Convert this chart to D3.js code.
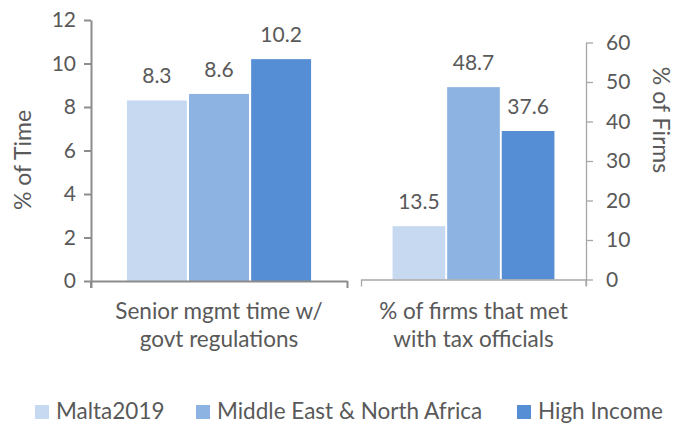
<!DOCTYPE html>
<html>
<head>
<meta charset="utf-8">
<script src="https://cdn.jsdelivr.net/npm/d3@7"></script>
<style>
  body { margin: 0; background: #fff; }
  text { font-family: Lato, "Open Sans", sans-serif; fill: #595959; }
</style>
</head>
<body>
<svg class="graph" width="682" height="424"></svg>
<script>
// data
var series = ["Malta2019", "Middle East & North Africa", "High Income"];
var categoryLines = [["Senior mgmt time w/", "govt regulations"], ["% of firms that met", "with tax officials"]];
var timeValues = [8.3, 8.6, 10.2];
var firmValues = [13.5, 48.7, 37.6];
var leftTicks = [0, 2, 4, 6, 8, 10, 12];
var rightTicks = [0, 10, 20, 30, 40, 50, 60];
var colors = ["#c6d9f0", "#8db3e2", "#558ed5"];

var svg = d3.select(".graph");
var numSize = 21, textSize = 22.5;

var yLeft = d3.scaleLinear().domain([0, 12]).range([281, 20]);
var yRight = d3.scaleLinear().domain([0, 60]).range([279.5, 42.5]);
var color = d3.scaleOrdinal().domain(series).range(colors);

// each panel: x extent, scale, values, title lines
var panels = [
  {x0: 91, x1: 347, y: yLeft, values: timeValues, lines: categoryLines[0], stroke: "#8c8c8c", sw: 2},
  {x0: 361, x1: 586, y: yRight, values: firmValues, lines: categoryLines[1], stroke: "#a6a6a6", sw: 1.3}
];

panels.forEach(function(p){
  var band = d3.scaleBand().domain([0]).range([p.x0, p.x1]).paddingOuter(0.195);
  var inner = d3.scaleBand().domain(series).range([0, band.bandwidth()]).paddingInner(0.035);
  var g = svg.append("g").attr("transform", "translate(" + band(0) + ",0)");

  g.selectAll("rect").data(p.values).enter().append("rect")
    .attr("x", function(d, i){ return inner(series[i]); })
    .attr("width", inner.bandwidth())
    .attr("y", function(d){ return p.y(d); })
    .attr("height", function(d){ return p.y(0) - p.y(d); })
    .attr("fill", function(d, i){ return color(series[i]); });

  g.selectAll(".val").data(p.values).enter().append("text")
    .attr("class", "val")
    .attr("x", function(d, i){ return inner(series[i]) + inner.bandwidth() / 2; })
    .attr("y", function(d){ return p.y(d) - 17; })
    .attr("text-anchor", "middle")
    .style("font-size", numSize + "px")
    .text(function(d){ return d.toFixed(1); });

  // category axis with end ticks
  var xl = d3.scaleLinear().domain([0, 1]).range([p.x0, p.x1]);
  var ax = svg.append("g").attr("transform", "translate(0," + p.y(0) + ")")
    .call(d3.axisBottom(xl).tickValues([0, 1]).tickSize(7).tickSizeOuter(0).tickFormat(""));
  ax.selectAll("path,line").attr("stroke", p.stroke).attr("stroke-width", p.sw);

  var t = svg.append("text")
    .attr("text-anchor", "middle")
    .style("font-size", textSize + "px");
  t.selectAll("tspan").data(p.lines).enter().append("tspan")
    .attr("x", (p.x0 + p.x1) / 2)
    .attr("y", function(d, i){ return 319 + i * 28; })
    .text(function(d){ return d; });
});

// left value axis
var la = svg.append("g").attr("transform", "translate(91,0)")
  .call(d3.axisLeft(yLeft).tickValues(leftTicks).tickSize(7).tickSizeOuter(0).tickPadding(8));
la.selectAll("path,line").attr("stroke", "#8c8c8c").attr("stroke-width", 2);
la.selectAll("text").style("font-size", numSize + "px").style("font-family", null).attr("fill", null);

// right value axis
var ra = svg.append("g").attr("transform", "translate(586,0)")
  .call(d3.axisRight(yRight).tickValues(rightTicks).tickSize(7).tickSizeOuter(0).tickPadding(13));
ra.selectAll("path,line").attr("stroke", "#a6a6a6").attr("stroke-width", 1.3);
ra.selectAll("text").style("font-size", numSize + "px").style("font-family", null).attr("fill", null);

// extend the vertical axes below the baseline
svg.append("line").attr("x1", 91).attr("x2", 91).attr("y1", yLeft(0)).attr("y2", 288)
  .attr("stroke", "#8c8c8c").attr("stroke-width", 2);
svg.append("line").attr("x1", 586).attr("x2", 586).attr("y1", yRight(0)).attr("y2", 286)
  .attr("stroke", "#a6a6a6").attr("stroke-width", 1.3);

// axis titles
svg.append("text").attr("transform", "translate(23,160) rotate(-90)")
  .attr("text-anchor", "middle").attr("dy", "0.35em").style("font-size", "23px").text("% of Time");
svg.append("text").attr("transform", "translate(661,120) rotate(90)")
  .attr("text-anchor", "middle").attr("dy", "0.35em").style("font-size", "23px").text("% of Firms");

// legend
var legendX = [35, 196, 517];
var lg = svg.selectAll(".leg").data(series).enter().append("g")
  .attr("class", "leg")
  .attr("transform", function(d, i){ return "translate(" + legendX[i] + ",405)"; });
lg.append("rect").attr("width", 14).attr("height", 14).attr("fill", function(d){ return color(d); });
lg.append("text").attr("x", 21).attr("y", 14).style("font-size", textSize + "px").text(function(d){ return d; });
</script>
</body>
</html>
